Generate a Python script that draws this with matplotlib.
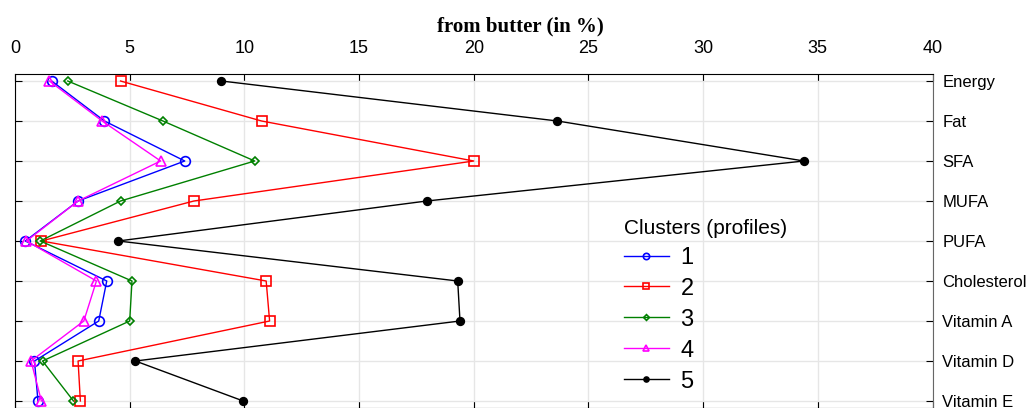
import numpy as np
import matplotlib
matplotlib.use("Agg")
import matplotlib.pyplot as plt

nutrients = ["Energy", "Fat", "SFA", "MUFA", "PUFA", "Cholesterol",
             "Vitamin A", "Vitamin D", "Vitamin E"]

cluster_1 = [1.6, 3.9, 7.4, 2.75, 0.45, 4.0, 3.65, 0.85, 1.0]
cluster_2 = [4.6, 10.75, 20.0, 7.8, 1.15, 10.95, 11.1, 2.75, 2.85]
cluster_3 = [2.3, 6.45, 10.45, 4.6, 1.1, 5.1, 5.0, 1.2, 2.55]
cluster_4 = [1.5, 3.8, 6.35, 2.75, 0.5, 3.55, 3.0, 0.7, 1.15]
cluster_5 = [9.0, 23.65, 34.4, 17.95, 4.5, 19.3, 19.4, 5.25, 9.95]

cluster_labels = ["1", "2", "3", "4", "5"]
x_ticks = [0, 5, 10, 15, 20, 25, 30, 35, 40]

series = [cluster_1, cluster_2, cluster_3, cluster_4, cluster_5]
styles = [
    dict(color="#0000ff", marker="o", markersize=7, markerfacecolor="none"),
    dict(color="#ff0000", marker="s", markersize=6.5, markerfacecolor="none"),
    dict(color="#008000", marker="D", markersize=4.5, markerfacecolor="none"),
    dict(color="#ff00ff", marker="^", markersize=7, markerfacecolor="none"),
    dict(color="#000000", marker="o", markersize=5.5, markerfacecolor="#000000"),
]

sans = ["Liberation Sans", "DejaVu Sans"]

fig = plt.figure(figsize=(10.27, 4.08), dpi=100)
ax = fig.add_axes([15 / 1027, 0.0, (932.5 - 15) / 1027, 1 - 74 / 408])

y_pos = np.arange(len(nutrients))
for values, label, st in zip(series, cluster_labels, styles):
    ax.plot(values, y_pos, "-", linewidth=1.0, markeredgewidth=1.2,
            label=label, **st)

ax.set_xlim(0, 40)
ax.set_ylim(len(nutrients) - 1 + 0.175, -0.175)
ax.set_xticks(x_ticks)
ax.set_yticks(y_pos)
ax.set_yticklabels(nutrients, family=sans, fontsize=12)
ax.set_xticklabels([str(t) for t in x_ticks], family=sans, fontsize=13)

ax.xaxis.tick_top()
ax.tick_params(axis="x", which="both", direction="in", length=5, pad=12,
               top=True, bottom=True)
ax.tick_params(axis="y", which="both", direction="in", length=5, pad=7,
               left=True, right=True, labelleft=False, labelright=True)
ax.grid(True, color="#e6e6e6", linewidth=1.0)
ax.set_axisbelow(True)
ax.spines["right"].set_color("#666666")
for s in ["left", "top", "bottom"]:
    ax.spines[s].set_color("#000000")

fig.text(0.507, 1 - 26 / 408, "from butter (in %)", ha="center", va="center",
         family=["Liberation Serif", "DejaVu Serif"], fontweight="bold",
         fontsize=15)

leg = ax.legend(title="Clusters (profiles)", loc="upper left",
                bbox_to_anchor=(612 / 1027, 1 - 207 / 408),
                bbox_transform=fig.transFigure, frameon=False, borderpad=0,
                handlelength=1.9, handletextpad=0.5, labelspacing=0.38,
                markerscale=0.65, alignment="left",
                prop={"family": sans, "size": 17},
                title_fontproperties={"family": sans, "size": 15})

fig.savefig("out.png", dpi=100)
